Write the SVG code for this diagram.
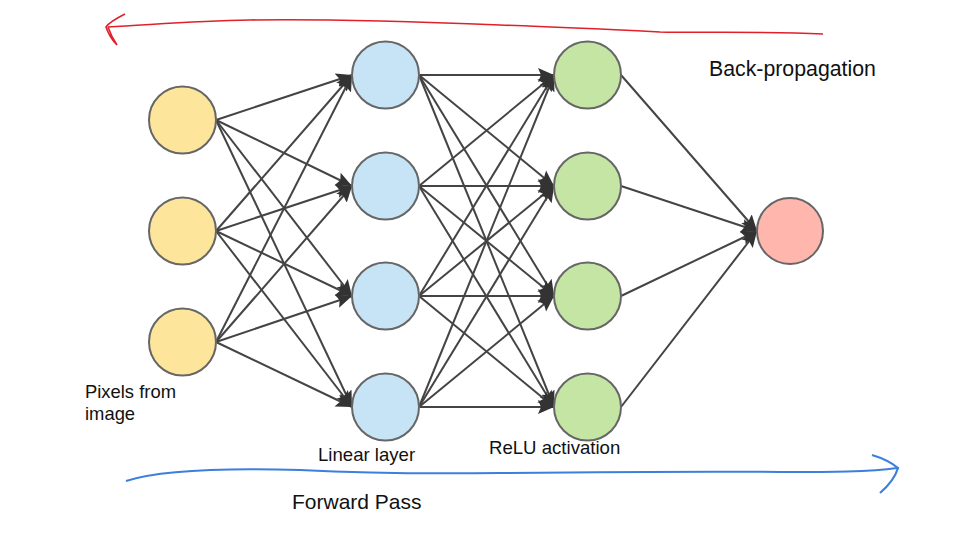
<svg xmlns="http://www.w3.org/2000/svg" width="960" height="540" viewBox="0 0 960 540">
<defs>
<style>
.node{stroke:#666;stroke-width:2}
.in{fill:#fde69c}
.lin{fill:#c6e4f6}
.relu{fill:#c5e5a5}
.out{fill:#feb6ad}
.edge{stroke:#444;stroke-width:2;fill:none;marker-end:url(#ah)}
.lbl{font-family:"Liberation Sans",Arial,sans-serif;fill:#111}
</style>
<marker id="ah" markerUnits="userSpaceOnUse" markerWidth="16" markerHeight="16" refX="16" refY="8" orient="auto">
<path d="M0,1 L16,8 L0,15 L3,8 z" fill="#333"/>
</marker>
</defs>
<rect width="960" height="540" fill="#fff"/>
<g id="connectors">
<line class="edge" x1="216" y1="120" x2="352" y2="75"/>
<line class="edge" x1="216" y1="120" x2="352" y2="186"/>
<line class="edge" x1="216" y1="120" x2="352" y2="296"/>
<line class="edge" x1="216" y1="120" x2="352" y2="407"/>
<line class="edge" x1="216" y1="231" x2="352" y2="75"/>
<line class="edge" x1="216" y1="231" x2="352" y2="186"/>
<line class="edge" x1="216" y1="231" x2="352" y2="296"/>
<line class="edge" x1="216" y1="231" x2="352" y2="407"/>
<line class="edge" x1="216" y1="342" x2="352" y2="75"/>
<line class="edge" x1="216" y1="342" x2="352" y2="186"/>
<line class="edge" x1="216" y1="342" x2="352" y2="296"/>
<line class="edge" x1="216" y1="342" x2="352" y2="407"/>
<line class="edge" x1="419" y1="75" x2="554" y2="75"/>
<line class="edge" x1="419" y1="75" x2="554" y2="186"/>
<line class="edge" x1="419" y1="75" x2="554" y2="296"/>
<line class="edge" x1="419" y1="75" x2="554" y2="407"/>
<line class="edge" x1="419" y1="186" x2="554" y2="75"/>
<line class="edge" x1="419" y1="186" x2="554" y2="186"/>
<line class="edge" x1="419" y1="186" x2="554" y2="296"/>
<line class="edge" x1="419" y1="186" x2="554" y2="407"/>
<line class="edge" x1="419" y1="296" x2="554" y2="75"/>
<line class="edge" x1="419" y1="296" x2="554" y2="186"/>
<line class="edge" x1="419" y1="296" x2="554" y2="296"/>
<line class="edge" x1="419" y1="296" x2="554" y2="407"/>
<line class="edge" x1="419" y1="407" x2="554" y2="75"/>
<line class="edge" x1="419" y1="407" x2="554" y2="186"/>
<line class="edge" x1="419" y1="407" x2="554" y2="296"/>
<line class="edge" x1="419" y1="407" x2="554" y2="407"/>
<line class="edge" x1="621" y1="75" x2="757" y2="231"/>
<line class="edge" x1="621" y1="186" x2="757" y2="231"/>
<line class="edge" x1="621" y1="296" x2="757" y2="231"/>
<line class="edge" x1="621" y1="407" x2="757" y2="231"/>
</g>
<g id="in1"><circle class="node in" cx="182.5" cy="120" r="33.5"/></g>
<g id="in2"><circle class="node in" cx="182.5" cy="231" r="33.5"/></g>
<g id="in3"><circle class="node in" cx="182.5" cy="342" r="33.5"/></g>
<g id="lin1"><circle class="node lin" cx="385.5" cy="75" r="33.5"/></g>
<g id="lin2"><circle class="node lin" cx="385.5" cy="186" r="33.5"/></g>
<g id="lin3"><circle class="node lin" cx="385.5" cy="296" r="33.5"/></g>
<g id="lin4"><circle class="node lin" cx="385.5" cy="407" r="33.5"/></g>
<g id="relu1"><circle class="node relu" cx="587.5" cy="75" r="33.5"/></g>
<g id="relu2"><circle class="node relu" cx="587.5" cy="186" r="33.5"/></g>
<g id="relu3"><circle class="node relu" cx="587.5" cy="296" r="33.5"/></g>
<g id="relu4"><circle class="node relu" cx="587.5" cy="407" r="33.5"/></g>
<g id="out1"><circle class="node out" cx="790" cy="231" r="33"/></g>
<g id="backprop">
<path d="M823,34 C760,31 700,33 660,32 C600,29 560,27 500,25 C400,21 320,19 250,20 C190,21 150,25 108,27" fill="none" stroke="#e0202a" stroke-width="1.6"/>
<path d="M125,14 C115,19 108,24 106,27 C108,33 112,40 117,45 C113,39 110,33 108,27" fill="none" stroke="#e0202a" stroke-width="1.6"/>
<text class="lbl" x="709" y="76" font-size="21.3">Back-propagation</text>
</g>
<g id="forward">
<path d="M126,481 C160,470 230,468 300,470 C360,473 420,474 500,473 C600,472 700,471 780,472 C830,472 870,472 897,468" fill="none" stroke="#3c7fdc" stroke-width="2"/>
<path d="M872,455 C882,458 892,463 898,468 C895,478 887,487 880,493" fill="none" stroke="#3c7fdc" stroke-width="2.2"/>
<text class="lbl" x="292" y="509" font-size="21">Forward Pass</text>
</g>
<text class="lbl" x="85" y="398" font-size="18.4">Pixels from</text>
<text class="lbl" x="85" y="420" font-size="18.4">image</text>
<text class="lbl" x="318" y="461" font-size="18.6">Linear layer</text>
<text class="lbl" x="489" y="454" font-size="18.6">ReLU activation</text>
</svg>
